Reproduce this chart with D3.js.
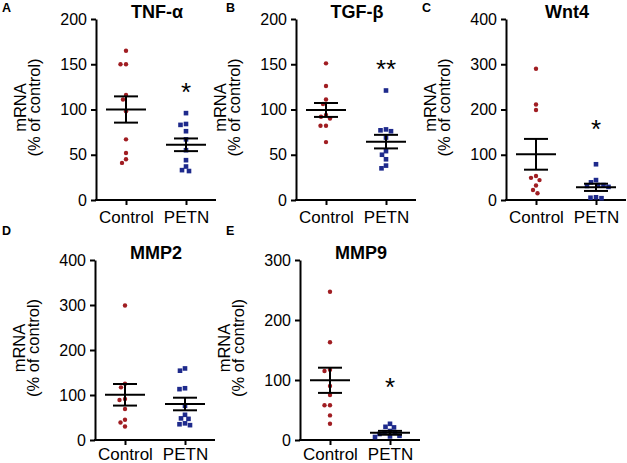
<!DOCTYPE html>
<html>
<head>
<meta charset="utf-8">
<script src="https://cdn.jsdelivr.net/npm/d3@7"></script>
<style>
  html, body { margin: 0; padding: 0; background: #fff; }
  svg { display: block; }
  text { font-family: Arial, "Liberation Sans", Helvetica, sans-serif; fill: #000; }
</style>
</head>
<body>
<svg id="chart" width="627" height="463"></svg>
<script>
// ---------- DATA ----------
const categories = ["Control", "PETN"];
const panelLetters = ["A", "B", "C", "D", "E"];
const genes = ["TNF-\u03b1", "TGF-\u03b2", "Wnt4", "MMP2", "MMP9"];
const yMax = [200, 200, 400, 400, 300];
const yTickStep = [50, 50, 100, 100, 100];

const ctrlA = [165, 150, 150, 116, 111, 98, 67, 52, 45, 41];
const petnA = [96, 84, 83, 76, 67, 55, 44, 37, 33, 32];
const ctrlB = [151, 126, 111, 106, 94, 92, 90, 82, 82, 64];
const petnB = [121, 78, 77, 76, 69, 54, 50, 45, 38, 35];
const ctrlC = [290, 211, 199, 53, 49, 44, 32, 22, 15];
const petnC = [79, 44, 39, 33, 33, 31, 29, 6, 5, 4];
const ctrlD = [299, 125, 117, 91, 89, 69, 45, 39, 30];
const petnD = [159, 154, 115, 113, 76, 56, 48, 47, 37, 35, 33];
const ctrlE = [247, 163, 117, 115, 90, 75, 58, 58, 41, 27];
const petnE = [27, 22, 21, 15, 13, 12, 10, 7, 6, 5];

const seriesValues = [
  [ctrlA, petnA], [ctrlB, petnB], [ctrlC, petnC], [ctrlD, petnD], [ctrlE, petnE]
];
const means = [[100, 61], [99.5, 64.5], [101, 28], [100.5, 80], [99.5, 12]];
const sems  = [[14.5, 7], [7.7, 7.5], [34, 8], [24, 14], [21, 3.2]];
const stars = ["*", "**", "*", "", "*"];
const starValue = [126, 151, 170, null, 98];

// ---------- LAYOUT / STYLE ----------
const layout = [
  { ox: 96,  yBottom: 200, yTop: 19,  letter: [2, 12],   pad: 6 },
  { ox: 296, yBottom: 200, yTop: 19,  letter: [226, 12], pad: 6 },
  { ox: 506, yBottom: 200, yTop: 19,  letter: [422, 12], pad: 6 },
  { ox: 95,  yBottom: 440, yTop: 260, letter: [2, 235],  pad: 3 },
  { ox: 300, yBottom: 440, yTop: 260, letter: [226, 235], pad: 3 }
];
const plotWidth = 120;
const colors = ["#a01d22", "#1e2a8c"];

const svg = d3.select("#chart");

function dodge(vals, y, cx) {
  const placed = [];
  const minDist = 5.2, step = 0.5;
  const order = vals.map((v, i) => i).sort((a, b) => vals[b] - vals[a]);
  const out = new Array(vals.length);
  order.forEach(i => {
    const py = y(vals[i]);
    let dx = 0;
    for (let k = 0; k < 200; k++) {
      const cand = (k % 2 === 0 ? 1 : -1) * Math.ceil(k / 2) * step;
      if (placed.every(p => Math.hypot(cand - p.dx, py - p.y) >= minDist)) { dx = cand; break; }
    }
    placed.push({ dx, y: py });
    out[i] = { x: cx + dx, y: py };
  });
  return out;
}

layout.forEach((L, pi) => {
  const g = svg.append("g");
  const y = d3.scaleLinear().domain([0, yMax[pi]]).range([L.yBottom, L.yTop]);
  const x = d3.scalePoint().domain(categories).range([L.ox, L.ox + plotWidth]).padding(0.5);

  // panel letter
  g.append("text").attr("x", L.letter[0]).attr("y", L.letter[1])
    .attr("font-size", 12.5).attr("font-weight", "bold").text(panelLetters[pi]);

  // title
  g.append("text").attr("x", L.ox + 61).attr("y", L.yTop - 1)
    .attr("text-anchor", "middle").attr("font-size", 18).attr("font-weight", "bold")
    .text(genes[pi]);

  // y axis
  const ticks = d3.range(0, yMax[pi] + 1, yTickStep[pi]);
  const yAxis = d3.axisLeft(y).tickValues(ticks).tickSize(5).tickPadding(4).tickSizeOuter(0);
  const ya = g.append("g").attr("transform", `translate(${L.ox},0)`).call(yAxis);
  ya.selectAll("path, line").attr("stroke", "#000").attr("stroke-width", 2);
  ya.selectAll("text").attr("font-size", 16).attr("font-family", "Arial, 'Liberation Sans', sans-serif");

  // x axis
  const xAxis = d3.axisBottom(x).tickSize(5).tickPadding(L.pad).tickSizeOuter(0);
  const xa = g.append("g").attr("transform", `translate(0,${L.yBottom})`).call(xAxis);
  xa.selectAll("path, line").attr("stroke", "#000").attr("stroke-width", 2);
  xa.select("path").attr("d", `M${L.ox - 1},0H${L.ox + plotWidth}`);
  xa.selectAll("text").attr("font-size", 17).attr("font-family", "Arial, 'Liberation Sans', sans-serif");

  // y axis title
  const cy = (L.yBottom + L.yTop) / 2 - 2;
  g.append("text").attr("transform", `translate(${L.ox - 70},${cy}) rotate(-90)`)
    .attr("text-anchor", "middle").attr("font-size", 16.5).text("mRNA");
  g.append("text").attr("transform", `translate(${L.ox - 56},${cy}) rotate(-90)`)
    .attr("text-anchor", "middle").attr("font-size", 16.5).text("(% of control)");

  // points
  categories.forEach((c, ci) => {
    const pts = dodge(seriesValues[pi][ci], y, x(c));
    if (ci === 0) {
      g.selectAll(null).data(pts).enter().append("circle")
        .attr("cx", d => d.x).attr("cy", d => d.y).attr("r", 2.2)
        .attr("fill", colors[0]);
    } else {
      const s = 4.6;
      g.selectAll(null).data(pts).enter().append("rect")
        .attr("x", d => d.x - s / 2).attr("y", d => d.y - s / 2)
        .attr("width", s).attr("height", s).attr("fill", colors[1]);
    }
  });

  // mean +- SEM
  categories.forEach((c, ci) => {
    const cx = x(c), m = means[pi][ci], e = sems[pi][ci];
    const eg = g.append("g").attr("stroke", "#000").attr("stroke-width", 2);
    eg.append("line").attr("x1", cx - 20).attr("x2", cx + 20).attr("y1", y(m)).attr("y2", y(m));
    eg.append("line").attr("x1", cx).attr("x2", cx).attr("y1", y(m + e)).attr("y2", y(m - e));
    eg.append("line").attr("x1", cx - 12).attr("x2", cx + 12).attr("y1", y(m + e)).attr("y2", y(m + e));
    eg.append("line").attr("x1", cx - 12).attr("x2", cx + 12).attr("y1", y(m - e)).attr("y2", y(m - e));
  });

  // significance
  if (stars[pi]) {
    const fs = 26;
    g.append("text").attr("x", x("PETN")).attr("y", y(starValue[pi]) + 0.58 * fs)
      .attr("text-anchor", "middle").attr("font-size", fs).text(stars[pi]);
  }
});
</script>
</body>
</html>
